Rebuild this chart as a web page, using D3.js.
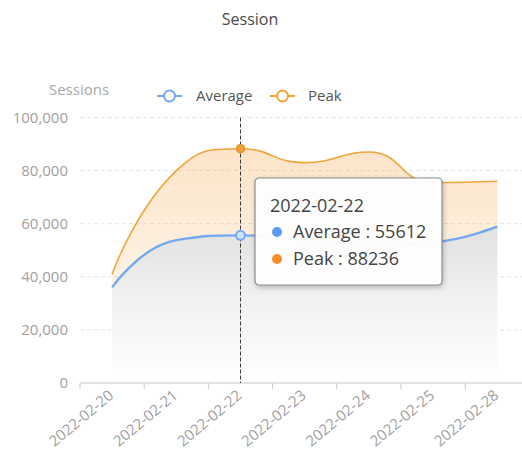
<!DOCTYPE html>
<html>
<head>
<meta charset="utf-8">
<script src="https://cdn.jsdelivr.net/npm/d3@7"></script>
<style>
  html, body { margin: 0; padding: 0; background: #fff; }
  svg { display: block; font-family: "Open Sans", "Noto Sans", sans-serif; }
</style>
</head>
<body>
<svg id="chart" width="522" height="455"></svg>
<script>
// Daily session counts
const categories = ["2022-02-20", "2022-02-21", "2022-02-22", "2022-02-23", "2022-02-24", "2022-02-25", "2022-02-28"];
const averageValues = [36000, 53800, 55612, 54000, 52000, 53000, 59000];
const peakValues = [41000, 80000, 88236, 83000, 87000, 75500, 76000];
const yTicks = [0, 20000, 40000, 60000, 80000, 100000];
const seriesNames = ["Average", "Peak"];
const seriesColors = ["#74a8ef", "#f2a33a"];
const tooltipDotColors = ["#5a9cf5", "#f7902b"];
const hoverIndex = 2;

const svg = d3.select("#chart");
const W = 522, H = 455;
const left = 80, bandW = 64.2;
const x = d3.scaleBand().domain(categories).range([left, left + bandW * categories.length]);
const y = d3.scaleLinear().domain([0, 100000]).range([383, 117.5]);
const cx = d => x(d) + x.bandwidth() / 2;

// Smoothed path through pixel points. Control points follow the direction
// from the previous to the next point, split by segment length, and are kept
// inside the box of each segment so the curve never overshoots a point.
function smoothPath(pts, smooth = 0.5) {
  const clamp = (v, a, b) => Math.max(Math.min(v, Math.max(a, b)), Math.min(a, b));
  let d = `M${pts[0][0]},${pts[0][1]}`;
  let cpx0 = pts[0][0], cpy0 = pts[0][1];
  for (let k = 1; k < pts.length; k++) {
    const [px, py] = pts[k - 1];
    const [xk, yk] = pts[k];
    let cpx1 = xk, cpy1 = yk, ncx = xk, ncy = yk;
    if (k < pts.length - 1) {
      const [nx, ny] = pts[k + 1];
      let vx = nx - px, vy = ny - py;
      const lp = Math.hypot(xk - px, yk - py);
      const ln = Math.hypot(nx - xk, ny - yk);
      const ratio = ln / (ln + lp);
      ncx = xk + vx * smooth * ratio;
      ncy = yk + vy * smooth * ratio;
      ncx = clamp(ncx, nx, xk);
      ncy = clamp(ncy, ny, yk);
      vx = ncx - xk; vy = ncy - yk;
      cpx1 = xk - vx * lp / ln;
      cpy1 = yk - vy * lp / ln;
      cpx1 = clamp(cpx1, px, xk);
      cpy1 = clamp(cpy1, py, yk);
      vx = xk - cpx1; vy = yk - cpy1;
      ncx = xk + vx * ln / lp;
      ncy = yk + vy * ln / lp;
    }
    d += `C${cpx0},${cpy0},${cpx1},${cpy1},${xk},${yk}`;
    cpx0 = ncx; cpy0 = ncy;
  }
  return d;
}
const toPts = vals => vals.map((v, i) => [cx(categories[i]), y(v)]);
const linePath = vals => smoothPath(toPts(vals));
const areaPath = vals => {
  const pts = toPts(vals);
  return smoothPath(pts) + `L${pts[pts.length - 1][0]},${y(0)}L${pts[0][0]},${y(0)}Z`;
};

const defs = svg.append("defs");
const gPeak = defs.append("linearGradient").attr("id", "peakFill")
  .attr("gradientUnits", "userSpaceOnUse").attr("x1", 0).attr("x2", 0)
  .attr("y1", y(100000)).attr("y2", y(0));
gPeak.append("stop").attr("offset", 0).attr("stop-color", "#f5a03c").attr("stop-opacity", 0.32);
gPeak.append("stop").attr("offset", 1).attr("stop-color", "#f5a03c").attr("stop-opacity", 0.02);
const gAvg = defs.append("linearGradient").attr("id", "avgFill")
  .attr("gradientUnits", "userSpaceOnUse").attr("x1", 0).attr("x2", 0)
  .attr("y1", y(58000)).attr("y2", y(0));
gAvg.append("stop").attr("offset", 0).attr("stop-color", "#e2e2e2");
gAvg.append("stop").attr("offset", 0.55).attr("stop-color", "#f4f4f4");
gAvg.append("stop").attr("offset", 1).attr("stop-color", "#ffffff");
const shadow = defs.append("filter").attr("id", "tipShadow")
  .attr("x", "-20%").attr("y", "-20%").attr("width", "140%").attr("height", "140%");
shadow.append("feDropShadow").attr("dx", 1).attr("dy", 2).attr("stdDeviation", 2.5)
  .attr("flood-color", "#000").attr("flood-opacity", 0.25);

// Title
svg.append("text").attr("x", 250).attr("y", 25).attr("text-anchor", "middle")
  .attr("font-size", 16).attr("fill", "#4a4a4a").text("Session");

// Y axis name
svg.append("text").attr("x", 79).attr("y", 95).attr("text-anchor", "middle")
  .attr("font-size", 15).attr("fill", "#a8a8a8").text("Sessions");

// Legend
const legendItems = [{ x: 157, tx: 196 }, { x: 270, tx: 308 }];
seriesNames.forEach((name, i) => {
  const g = svg.append("g");
  const lx = legendItems[i].x, ly = 96;
  g.append("line").attr("x1", lx).attr("x2", lx + 25).attr("y1", ly).attr("y2", ly)
    .attr("stroke", seriesColors[i]).attr("stroke-width", 2);
  g.append("circle").attr("cx", lx + 12.5).attr("cy", ly).attr("r", 5.5)
    .attr("fill", "#fff").attr("stroke", seriesColors[i]).attr("stroke-width", 2);
  g.append("text").attr("x", legendItems[i].tx).attr("y", ly).attr("dy", "0.35em")
    .attr("font-size", 15).attr("fill", "#555").text(name);
});

// Horizontal grid lines
svg.append("g").selectAll("line").data(yTicks.filter(t => t > 0)).join("line")
  .attr("x1", left).attr("x2", W).attr("y1", d => y(d)).attr("y2", d => y(d))
  .attr("stroke", "#e3e3e3").attr("stroke-dasharray", "4,3");

// Y tick labels
svg.append("g").selectAll("text").data(yTicks).join("text")
  .attr("x", 68).attr("y", d => y(d)).attr("dy", "0.35em").attr("text-anchor", "end")
  .attr("font-size", 15).attr("fill", "#a0a0a0").text(d => d3.format(",")(d));

// Areas and lines
svg.append("path").attr("d", areaPath(peakValues)).attr("fill", "url(#peakFill)");
svg.append("path").attr("d", areaPath(averageValues)).attr("fill", "url(#avgFill)");
svg.append("path").attr("d", linePath(peakValues)).attr("fill", "none")
  .attr("stroke", seriesColors[1]).attr("stroke-width", 1.6);
svg.append("path").attr("d", linePath(averageValues)).attr("fill", "none")
  .attr("stroke", seriesColors[0]).attr("stroke-width", 2.4);

// X axis
const xAxis = svg.append("g");
xAxis.append("line").attr("x1", left).attr("x2", W).attr("y1", y(0)).attr("y2", y(0))
  .attr("stroke", "#c8c8c8");
xAxis.selectAll("line.tick").data(categories).join("line").attr("class", "tick")
  .attr("x1", d => x(d)).attr("x2", d => x(d)).attr("y1", y(0)).attr("y2", y(0) + 6)
  .attr("stroke", "#c8c8c8");
xAxis.selectAll("text").data(categories).join("text")
  .attr("transform", d => `translate(${cx(d) - 1},${y(0) + 10}) rotate(-40)`)
  .attr("text-anchor", "end").attr("dy", "0.35em")
  .attr("font-size", 15).attr("fill", "#a0a0a0").text(d => d);

// Hover pointer
const hx = cx(categories[hoverIndex]);
svg.append("line").attr("x1", hx).attr("x2", hx).attr("y1", y(100000)).attr("y2", y(0))
  .attr("stroke", "#3a3a3a").attr("stroke-dasharray", "4,2");
svg.append("circle").attr("cx", hx).attr("cy", y(peakValues[hoverIndex])).attr("r", 4)
  .attr("fill", seriesColors[1]).attr("stroke", "#e8902a").attr("stroke-width", 1.5);
svg.append("circle").attr("cx", hx).attr("cy", y(averageValues[hoverIndex])).attr("r", 4.5)
  .attr("fill", "#cfe2fb").attr("stroke", seriesColors[0]).attr("stroke-width", 2);

// Tooltip
const tip = svg.append("g").attr("transform", "translate(255,178)");
tip.append("rect").attr("width", 187).attr("height", 107).attr("rx", 4)
  .attr("fill", "rgba(255,255,255,0.96)").attr("stroke", "#8a8a8a").attr("stroke-width", 1.2)
  .attr("filter", "url(#tipShadow)");
tip.append("text").attr("x", 15).attr("y", 34).attr("font-size", 18).attr("fill", "#444")
  .text(categories[hoverIndex]);
[averageValues, peakValues].forEach((vals, i) => {
  const ry = 54 + i * 27;
  tip.append("circle").attr("cx", 22).attr("cy", ry).attr("r", 5).attr("fill", tooltipDotColors[i]);
  tip.append("text").attr("x", 38).attr("y", ry).attr("dy", "0.35em").attr("font-size", 18)
    .attr("fill", "#444").text(`${seriesNames[i]} : ${vals[hoverIndex]}`);
});
</script>
</body>
</html>
